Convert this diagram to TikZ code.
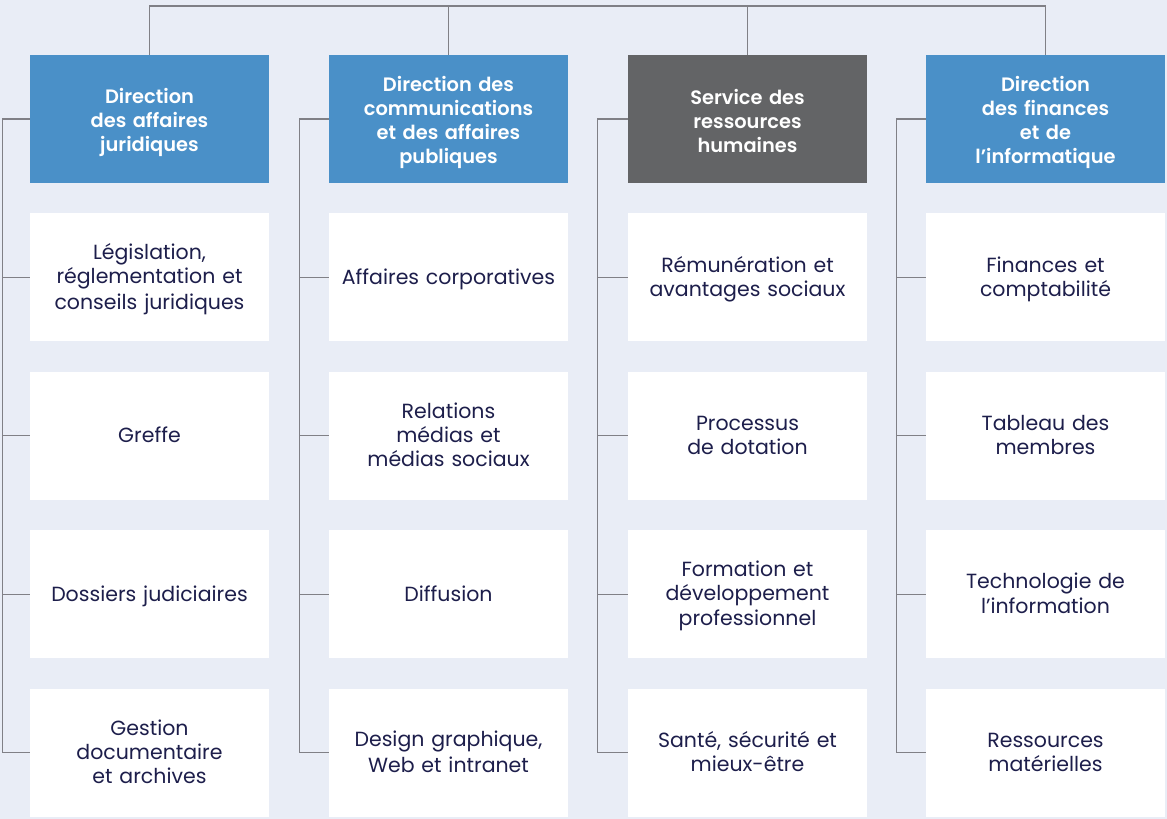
\documentclass[tikz,border=0pt]{standalone}
\usepackage{fontspec}
\setmainfont{Poppins}
\newfontfamily\headfont{Poppins SemiBold}
\usepackage{tikz}
\usetikzlibrary{positioning}
\definecolor{fond}{HTML}{E9EDF6}
\definecolor{bleu}{HTML}{4A90C8}
\definecolor{gris}{HTML}{636466}
\definecolor{trait}{HTML}{808086}
\definecolor{encre}{HTML}{1D1E4B}
\newcommand\ligne{\rule[-5pt]{0pt}{24pt}}
\newcommand\lignetete{\rule[-5pt]{0pt}{28pt}}
\tikzset{
  direction/.style={fill=bleu, text=white, minimum width=239pt, minimum height=128pt, inner sep=0pt, text width=225pt, align=center, font=\headfont\fontsize{19.4}{24}\selectfont, execute at begin node=\lignetete, execute at end node=\lignetete},
  unite/.style={fill=white, text=encre, minimum width=239pt, minimum height=128pt, inner sep=0pt, text width=233pt, align=center, font=\fontsize{20.5}{24}\selectfont, execute at begin node=\ligne, execute at end node=\ligne},
  lien/.style={draw=trait, line width=1.2pt}
}

\begin{document}
\begin{tikzpicture}[x=1pt,y=-1pt]
\fill[fond] (0,0) rectangle (1167,819);
\useasboundingbox (0,0) rectangle (1167,819);

\node[direction] (jur) at (149.5,119) {Direction\\des affaires\\juridiques};
\node[direction] (com) at (448.5,119) {Direction des\\communications\\et des affaires\\publiques};
\node[direction, fill=gris] (rh) at (747.5,119) {Service des\\ressources\\humaines};
\node[direction] (fin) at (1045.5,119) {Direction\\des finances\\et de\\l’informatique};

\node[unite, below=30pt of jur] (jur1) {Législation,\\réglementation et\\conseils juridiques};
\node[unite, below=30pt of jur1] (jur2) {Greffe};
\node[unite, below=30pt of jur2] (jur3) {Dossiers judiciaires};
\node[unite, below=30pt of jur3] (jur4) {Gestion\\documentaire\\et archives};

\node[unite, below=30pt of com] (com1) {Affaires corporatives};
\node[unite, below=30pt of com1] (com2) {Relations\\médias et\\médias sociaux};
\node[unite, below=30pt of com2] (com3) {Diffusion};
\node[unite, below=30pt of com3] (com4) {Design graphique,\\Web et intranet};

\node[unite, below=30pt of rh] (rh1) {Rémunération et\\avantages sociaux};
\node[unite, below=30pt of rh1] (rh2) {Processus\\de dotation};
\node[unite, below=30pt of rh2] (rh3) {Formation et\\développement\\professionnel};
\node[unite, below=30pt of rh3] (rh4) {Santé, sécurité et\\mieux-être};

\node[unite, below=30pt of fin] (fin1) {Finances et\\comptabilité};
\node[unite, below=30pt of fin1] (fin2) {Tableau des\\membres};
\node[unite, below=30pt of fin2] (fin3) {Technologie de\\l’information};
\node[unite, below=30pt of fin3] (fin4) {Ressources\\matérielles};

% liens du haut
\coordinate (haut) at (0,6);
\draw[lien] (jur.north) |- (haut -| fin.north) -- (fin.north);
\draw[lien] (com.north) -- (com.north |- haut);
\draw[lien] (rh.north) -- (rh.north |- haut);

% accolades de gauche
\draw[lien] (jur.west) -- ++(-27,0) |- (jur4.west);
\draw[lien] (jur1.west) -- ++(-27,0);
\draw[lien] (jur2.west) -- ++(-27,0);
\draw[lien] (jur3.west) -- ++(-27,0);

\draw[lien] (com.west) -- ++(-29,0) |- (com4.west);
\draw[lien] (com1.west) -- ++(-29,0);
\draw[lien] (com2.west) -- ++(-29,0);
\draw[lien] (com3.west) -- ++(-29,0);

\draw[lien] (rh.west) -- ++(-30,0) |- (rh4.west);
\draw[lien] (rh1.west) -- ++(-30,0);
\draw[lien] (rh2.west) -- ++(-30,0);
\draw[lien] (rh3.west) -- ++(-30,0);

\draw[lien] (fin.west) -- ++(-29,0) |- (fin4.west);
\draw[lien] (fin1.west) -- ++(-29,0);
\draw[lien] (fin2.west) -- ++(-29,0);
\draw[lien] (fin3.west) -- ++(-29,0);

\end{tikzpicture}
\end{document}
